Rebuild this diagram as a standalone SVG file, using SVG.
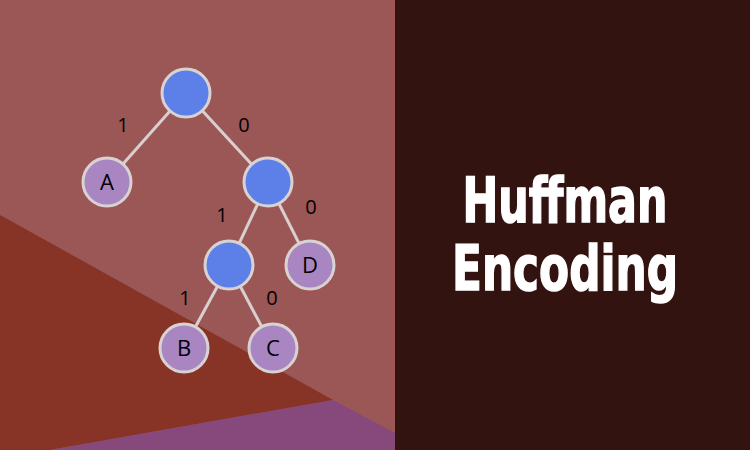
<svg xmlns="http://www.w3.org/2000/svg" width="750" height="450" viewBox="0 0 750 450">
<style>
.edge{stroke:#d9cfcf;stroke-width:3;fill:none}
.inner{fill:#5c80e8;stroke:#d9d2d2;stroke-width:3}
.leaf{fill:#a985c1;stroke:#d9d2d2;stroke-width:3}
.lbl{font-family:"Open Sans","DejaVu Sans",sans-serif;font-size:20px;fill:#000;text-anchor:middle}
.nl{font-family:"Open Sans","DejaVu Sans",sans-serif;font-size:22px;fill:#000;text-anchor:middle}
.title{font-family:"DejaVu Sans Condensed","DejaVu Sans",sans-serif;font-weight:bold;font-size:63px;fill:#ffffff;stroke:#ffffff;stroke-width:1.5;text-anchor:middle}
</style>
<rect x="0" y="0" width="395" height="450" fill="#9b5656"/>
<polygon points="0,215 333,400 50,450 0,450" fill="#873325"/>
<polygon points="50,450 333,400 395,433 395,450" fill="#87487b"/>
<rect x="395" y="0" width="355" height="450" fill="#321310"/>
<g id="connectors">
<line class="edge" x1="186" y1="93" x2="107" y2="182"/>
<line class="edge" x1="186" y1="93" x2="268" y2="182"/>
<line class="edge" x1="268" y1="182" x2="229" y2="265"/>
<line class="edge" x1="268" y1="182" x2="310" y2="265"/>
<line class="edge" x1="229" y1="265" x2="184" y2="348"/>
<line class="edge" x1="229" y1="265" x2="273" y2="348"/>
<text class="lbl" x="123" y="132">1</text>
<text class="lbl" x="244" y="132">0</text>
<text class="lbl" x="222" y="222">1</text>
<text class="lbl" x="311" y="214">0</text>
<text class="lbl" x="185" y="305">1</text>
<text class="lbl" x="272" y="305">0</text>
</g>
<g id="root"><circle class="inner" cx="186" cy="93" r="24"/></g>
<g id="nodeA"><circle class="leaf" cx="107" cy="182" r="24"/><text class="nl" x="107" y="190">A</text></g>
<g id="n1"><circle class="inner" cx="268" cy="182" r="24"/></g>
<g id="n2"><circle class="inner" cx="229" cy="265" r="24"/></g>
<g id="nodeD"><circle class="leaf" cx="310" cy="265" r="24"/><text class="nl" x="310" y="273">D</text></g>
<g id="nodeB"><circle class="leaf" cx="184" cy="348" r="24"/><text class="nl" x="184" y="356">B</text></g>
<g id="nodeC"><circle class="leaf" cx="273" cy="348" r="24"/><text class="nl" x="273" y="356">C</text></g>
<g id="title">
<text class="title" x="565" y="222" textLength="205" lengthAdjust="spacingAndGlyphs">Huffman</text>
<text class="title" x="565" y="290" textLength="226" lengthAdjust="spacingAndGlyphs">Encoding</text>
</g>
</svg>
